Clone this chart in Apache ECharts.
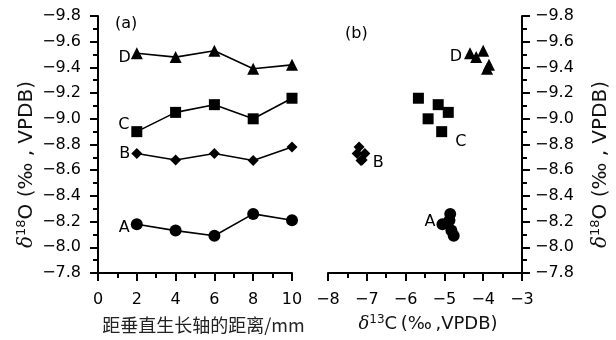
<!DOCTYPE html>
<html><head><meta charset="utf-8">
<script src="https://cdn.jsdelivr.net/npm/echarts@6/dist/echarts.min.js"></script>
<style>html,body{margin:0;padding:0;background:#fff}#c{width:616px;height:340px}</style>
</head><body><div id="c"></div>
<script>
// ---- data ----
var distance = [2, 4, 6, 8, 10];
var seriesNames = ['A', 'B', 'C', 'D'];
var A_O18 = [-8.18, -8.13, -8.09, -8.26, -8.21];
var B_O18 = [-8.73, -8.68, -8.73, -8.675, -8.78];
var C_O18 = [-8.90, -9.05, -9.11, -9.00, -9.16];
var D_O18 = [-9.51, -9.48, -9.53, -9.39, -9.42];
var A_C13 = [-5.05, -4.82, -4.76, -4.85, -4.87];
var B_C13 = [-7.25, -7.12, -7.05, -7.15, -7.2];
var C_C13 = [-5.07, -4.90, -5.16, -5.42, -5.67];
var D_C13 = [-4.34, -4.18, -4.00, -3.90, -3.85];
var yTicks = [-9.8, -9.6, -9.4, -9.2, -9.0, -8.8, -8.6, -8.4, -8.2, -8.0, -7.8];
var xTicksA = [0, 2, 4, 6, 8, 10];
var xTicksB = [-8, -7, -6, -5, -4, -3];

var O18 = [A_O18, B_O18, C_O18, D_O18];
var C13 = [A_C13, B_C13, C_C13, D_C13];
var symbols = ['circle', 'diamond', 'rect', 'triangle'];
var sizes = [12, 11, 11, 12];

var FONT = 'DejaVu Sans';
function fmt(v){ return (Math.abs(v) < 1e-9 ? 0 : v).toFixed(1).replace('-', '\u2212'); }
function fmtInt(v){ return String(Math.round(v)).replace('-', '\u2212'); }

var axisLine = {show: true, lineStyle: {color: '#000', width: 2}};
var axisTick = {show: true, inside: false, length: 8, lineStyle: {color: '#000', width: 2}};
var minorTick = {show: true, splitNumber: 2, length: 5, lineStyle: {color: '#000', width: 2}};
var lbl = {color: '#000', fontSize: 16, fontFamily: FONT};

function richName(fs){
  return {
    d: {fontFamily: 'DejaVu Serif', fontStyle: 'italic', fontSize: fs, lineHeight: fs + 2, color: '#111'},
    s: {fontFamily: FONT, fontSize: Math.round(fs * 0.65), lineHeight: Math.round(fs * 0.65), color: '#111', padding: [0, 0, Math.round(fs * 0.5), 0]},
    n: {fontFamily: FONT, fontSize: fs, lineHeight: fs + 2, color: '#111'}
  };
}

// label positions per series (panel a: first point; panel b: chosen point)
var labA = [
  {idx: 0, position: 'left', distance: 1, offset: [0, 4]},
  {idx: 0, position: 'left', distance: 1, offset: [0, 0]},
  {idx: 0, position: 'left', distance: 2, offset: [0, -7]},
  {idx: 0, position: 'left', distance: 0, offset: [0, 5]}
];
var labB = [
  {idx: 0, position: 'left', distance: 1, offset: [0, -2]},
  {idx: 1, position: 'right', distance: 5, offset: [0, 3]},
  {idx: 0, position: 'right', distance: 8, offset: [0, 10]},
  {idx: 0, position: 'left', distance: 2, offset: [0, 4]}
];

function mkData(xs, ys, lab){
  return xs.map(function(x, i){
    var d = {value: [x, ys[i]]};
    if (i === lab.idx) {
      d.label = {show: true, position: lab.position, distance: lab.distance, offset: lab.offset,
        formatter: '{a}', color: '#000', fontSize: 16, fontFamily: FONT};
    }
    return d;
  });
}

var series = [];
for (var k = 0; k < 4; k++) {
  series.push({
    name: seriesNames[k], type: 'line', xAxisIndex: 0, yAxisIndex: 0,
    data: mkData(distance, O18[k], labA[k]),
    symbol: symbols[k], symbolSize: sizes[k], showAllSymbol: true,
    lineStyle: {color: '#000', width: 1.6}, itemStyle: {color: '#000'},
    label: {show: false}, animation: false, z: 3
  });
  series.push({
    name: seriesNames[k], type: 'scatter', xAxisIndex: 1, yAxisIndex: 1,
    data: mkData(C13[k], O18[k], labB[k]),
    symbol: symbols[k], symbolSize: sizes[k],
    itemStyle: {color: '#000', opacity: 1}, label: {show: false}, animation: false, z: 3
  });
}

var chart = echarts.init(document.getElementById('c'), null, {renderer: 'canvas'});
chart.setOption({
  backgroundColor: '#fff',
  animation: false,
  grid: [
    {left: 98, top: 16, width: 194, height: 257},
    {left: 328, top: 16, width: 194, height: 257}
  ],
  xAxis: [
    {gridIndex: 0, type: 'value', min: xTicksA[0], max: xTicksA[xTicksA.length - 1], interval: 2,
      axisLine: axisLine, axisTick: axisTick, minorTick: minorTick, splitLine: {show: false},
      axisLabel: Object.assign({margin: 19, formatter: fmtInt}, lbl),
      name: '距垂直生长轴的距离/mm', nameLocation: 'middle', nameGap: 43,
      nameTextStyle: {fontFamily: 'Noto Sans CJK SC', fontSize: 18, color: '#222', padding: [0, 0, 0, 17]}},
    {gridIndex: 1, type: 'value', min: xTicksB[0], max: xTicksB[xTicksB.length - 1], interval: 1,
      axisLine: axisLine, axisTick: axisTick, minorTick: minorTick, splitLine: {show: false},
      axisLabel: Object.assign({margin: 19, formatter: fmtInt}, lbl),
      name: '{d|δ}{s|13}{n|C\u2009(‰\u2009,VPDB)}', nameLocation: 'middle', nameGap: 41,
      nameTextStyle: {rich: richName(18), padding: [0, 0, 0, 6]}}
  ],
  yAxis: [
    {gridIndex: 0, type: 'value', inverse: true, min: yTicks[0], max: yTicks[yTicks.length - 1], interval: 0.2,
      position: 'left',
      axisLine: axisLine, axisTick: axisTick, minorTick: minorTick, splitLine: {show: false},
      axisLabel: Object.assign({margin: 17, formatter: fmt}, lbl),
      name: '{d|δ}{s|18}{n|O (‰ , VPDB)}', nameLocation: 'middle', nameGap: 60, nameRotate: 90,
      nameTextStyle: {rich: richName(20), padding: [0, 40, 0, 0]}},
    {gridIndex: 1, type: 'value', inverse: true, min: yTicks[0], max: yTicks[yTicks.length - 1], interval: 0.2,
      position: 'right',
      axisLine: axisLine, axisTick: axisTick, minorTick: minorTick, splitLine: {show: false},
      axisLabel: Object.assign({margin: 13, formatter: fmt}, lbl),
      name: '{d|δ}{s|18}{n|O (‰ , VPDB)}', nameLocation: 'middle', nameGap: 68, nameRotate: 90,
      nameTextStyle: {rich: richName(20), padding: [0, 40, 0, 0]}}
  ],
  graphic: [
    {type: 'text', left: 115, top: 16, style: {text: '(a)', fontSize: 16, fontFamily: FONT, fill: '#000'}},
    {type: 'text', left: 345, top: 26, style: {text: '(b)', fontSize: 16, fontFamily: FONT, fill: '#000'}}
  ],
  series: series
});
</script></body></html>
